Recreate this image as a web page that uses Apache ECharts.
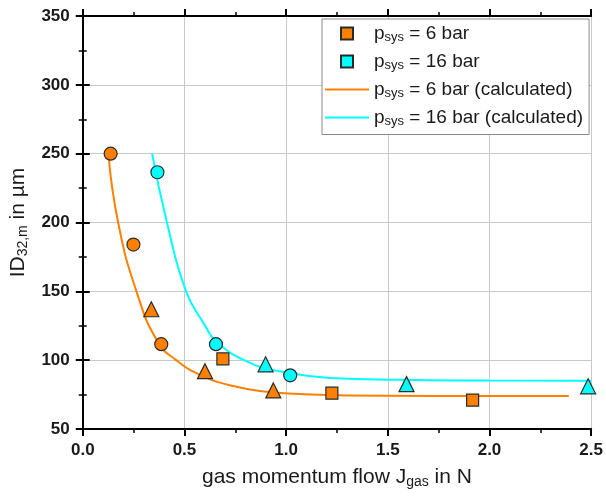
<!DOCTYPE html>
<html>
<head>
<meta charset="utf-8">
<script src="https://cdn.jsdelivr.net/npm/echarts@6/dist/echarts.min.js"></script>
<style>
  html, body { margin: 0; padding: 0; background: #fff; }
  #chart { width: 606px; height: 496px; }
</style>
</head>
<body>
<div id="chart"></div>
<script>
// Measured droplet sizes, p_sys = 6 bar: [J_gas (N), ID32,m (µm), marker]
const measured6 = [
  [0.137, 250, 'circle'],
  [0.249, 184, 'circle'],
  [0.386, 111.6, 'circle'],
  [0.337, 137, 'triangle'],
  [0.601, 92, 'triangle'],
  [0.937, 78, 'triangle'],
  [0.689, 101, 'rect'],
  [1.225, 76, 'rect'],
  [1.917, 71, 'rect']
];

// Measured droplet sizes, p_sys = 16 bar
const measured16 = [
  [0.367, 236.5, 'circle'],
  [0.655, 111.6, 'circle'],
  [1.02, 89, 'circle'],
  [0.899, 97, 'triangle'],
  [1.592, 82.6, 'triangle'],
  [2.485, 81, 'triangle']
];

// Calculated curves
const calc6 = [
  [0.126, 250], [0.174, 200], [0.264, 150], [0.37, 113], [0.46, 100],
  [0.582, 89], [0.745, 81], [0.907, 77], [1.07, 75.4], [1.494, 74.1],
  [2.0, 73.9], [2.39, 73.9]
];
const calc16 = [
  [0.341, 250], [0.414, 200], [0.508, 150], [0.598, 126], [0.66, 113],
  [0.826, 97.8], [0.989, 91.5], [1.217, 87], [1.56, 85.7], [2.0, 85.2],
  [2.5, 85]
];

const seriesNames = ['6 bar', '16 bar', '6 bar (calculated)', '16 bar (calculated)'];

const FONT = '"Liberation Sans", Arial, sans-serif';
const ORANGE = '#FF8000';
const CYAN = '#00FFFF';
const DARK = '#1a1a1a';

// legend icons drawn inside a common 44x14 box so all texts line up
const squareIcon = 'path://M0,0M44,14M16,1h12v12h-12z';
const lineIcon = 'path://M0,0M44,14M0,6h44v2h-44z';

const symbolSizes = { circle: 13, triangle: 15, rect: 12 };

function toPoints(rows) {
  return rows.map(r => ({ value: [r[0], r[1]], symbol: r[2], symbolSize: symbolSizes[r[2]] }));
}

const frameAxis = {
  axisLine: { show: true, lineStyle: { color: '#000', width: 2 } },
  axisTick: { show: true, inside: false, length: 7, lineStyle: { color: '#000', width: 2 } },
  minorTick: { show: true, splitNumber: 2, length: 4, lineStyle: { color: '#000', width: 1.5 } }
};

const nameRich = {
  a: { fontSize: 21, fontFamily: FONT, color: DARK, lineHeight: 24, verticalAlign: 'middle' },
  s: { fontSize: 14, fontFamily: FONT, color: DARK, lineHeight: 12, verticalAlign: 'bottom' }
};

const chart = echarts.init(document.getElementById('chart'), null, { renderer: 'canvas' });

chart.setOption({
  animation: false,
  backgroundColor: '#fff',
  textStyle: { fontFamily: FONT },
  grid: { left: 81, right: 14, top: 16, bottom: 67, containLabel: false },
  legend: {
    orient: 'vertical',
    left: 322,
    top: 19,
    padding: [5, 6, 7, 2],
    itemGap: 8.5,
    itemWidth: 44,
    itemHeight: 14,
    backgroundColor: '#fff',
    borderColor: '#8a8a8a',
    borderWidth: 1,
    data: [
      { name: seriesNames[0], icon: squareIcon },
      { name: seriesNames[1], icon: squareIcon },
      { name: seriesNames[2], icon: lineIcon },
      { name: seriesNames[3], icon: lineIcon }
    ],
    formatter: name => '{p|p}{s|sys}{t| = ' + name + '}',
    textStyle: {
      fontFamily: FONT,
      color: DARK,
      rich: {
        p: { fontSize: 19, fontFamily: FONT, color: DARK, lineHeight: 20, verticalAlign: 'middle' },
        s: { fontSize: 13, fontFamily: FONT, color: DARK, lineHeight: 12, verticalAlign: 'bottom' },
        t: { fontSize: 19, fontFamily: FONT, color: DARK, lineHeight: 20, verticalAlign: 'middle' }
      }
    }
  },
  xAxis: [
    Object.assign({
      type: 'value',
      min: 0, max: 2.5, interval: 0.5,
      name: '{a|gas momentum flow J}{s|gas}{a| in N}',
      nameLocation: 'middle',
      nameGap: 36,
      nameTextStyle: { rich: nameRich },
      axisLabel: {
        margin: 13, fontSize: 17, fontWeight: 'bold', color: DARK, fontFamily: FONT,
        formatter: v => v.toFixed(1)
      },
      splitLine: { show: true, lineStyle: { color: '#c9c9c9', width: 1 } }
    }, frameAxis),
    Object.assign({
      type: 'value', position: 'top',
      min: 0, max: 2.5, interval: 0.5,
      axisLabel: { show: false },
      splitLine: { show: false }
    }, frameAxis)
  ],
  yAxis: [
    Object.assign({
      type: 'value',
      min: 50, max: 350, interval: 50,
      name: '{a|ID}{s|32,m}{a| in µm}',
      nameLocation: 'middle',
      nameGap: 46,
      nameRotate: 90,
      nameTextStyle: { rich: nameRich },
      axisLabel: { margin: 13, fontSize: 17, fontWeight: 'bold', color: DARK, fontFamily: FONT },
      splitLine: { show: true, lineStyle: { color: '#c9c9c9', width: 1 } }
    }, frameAxis),
    Object.assign({
      type: 'value', position: 'right',
      min: 50, max: 350, interval: 50,
      axisLabel: { show: false },
      splitLine: { show: false }
    }, frameAxis)
  ],
  series: [
    {
      name: seriesNames[2],
      type: 'line',
      data: calc6,
      smooth: 0.5,
      symbol: 'none',
      lineStyle: { color: ORANGE, width: 2 },
      itemStyle: { color: ORANGE },
      z: 2
    },
    {
      name: seriesNames[3],
      type: 'line',
      data: calc16,
      smooth: 0.5,
      symbol: 'none',
      lineStyle: { color: CYAN, width: 2 },
      itemStyle: { color: CYAN },
      z: 2
    },
    {
      name: seriesNames[0],
      type: 'scatter',
      data: toPoints(measured6),
      itemStyle: { color: ORANGE, borderColor: '#2a2a2a', borderWidth: 1.2, opacity: 1 },
      z: 3
    },
    {
      name: seriesNames[1],
      type: 'scatter',
      data: toPoints(measured16),
      itemStyle: { color: CYAN, borderColor: '#2a2a2a', borderWidth: 1.2, opacity: 1 },
      z: 3
    }
  ]
});
</script>
</body>
</html>
